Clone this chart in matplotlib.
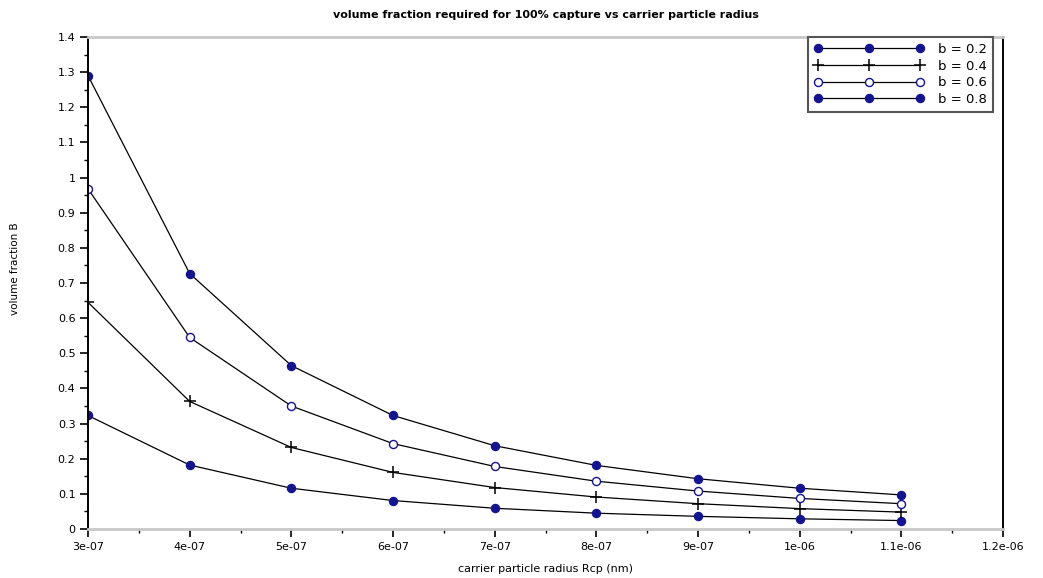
import numpy as np
import matplotlib
matplotlib.use("Agg")
import matplotlib.pyplot as plt
from matplotlib.ticker import MultipleLocator, FuncFormatter

# carrier particle radius (m)
radius = [3e-07, 4e-07, 5e-07, 6e-07, 7e-07, 8e-07, 9e-07, 1e-06, 1.1e-06]
# volume fraction for each b
b02 = [0.323, 0.182, 0.116, 0.081, 0.059, 0.045, 0.036, 0.029, 0.024]
b04 = [0.645, 0.363, 0.232, 0.161, 0.118, 0.091, 0.072, 0.058, 0.048]
b06 = [0.968, 0.545, 0.350, 0.243, 0.178, 0.136, 0.108, 0.087, 0.072]
b08 = [1.290, 0.727, 0.465, 0.323, 0.237, 0.181, 0.143, 0.116, 0.097]
labels = ["b = 0.2", "b = 0.4", "b = 0.6", "b = 0.8"]

NAVY = "#14148f"
fig = plt.figure(figsize=(10.43, 5.78), dpi=100)
ax = fig.add_axes([88/1043, 1-529/578, 915/1043, 492/578])

lw = 0.9
ms = 5.8
ax.plot(radius, b02, color="black", lw=lw, marker="o", ms=ms, mfc=NAVY, mec=NAVY, label=labels[0])
ax.plot(radius, b04, color="black", lw=lw, marker="+", ms=8, mew=1.1, mec="black", label=labels[1])
ax.plot(radius, b06, color="black", lw=lw, marker="o", ms=ms, mfc="white", mec=NAVY, mew=1.0, label=labels[2])
ax.plot(radius, b08, color="black", lw=lw, marker="o", ms=ms, mfc=NAVY, mec=NAVY, label=labels[3])

ax.set_xlim(3e-07, 1.2e-06)
ax.set_ylim(0, 1.4)
ax.xaxis.set_major_locator(MultipleLocator(1e-07))
ax.xaxis.set_minor_locator(MultipleLocator(5e-08))
ax.yaxis.set_major_locator(MultipleLocator(0.1))
ax.yaxis.set_minor_locator(MultipleLocator(0.05))

xlabs = {3: "3e-07", 4: "4e-07", 5: "5e-07", 6: "6e-07", 7: "7e-07", 8: "8e-07",
         9: "9e-07", 10: "1e-06", 11: "1.1e-06", 12: "1.2e-06"}
ax.xaxis.set_major_formatter(FuncFormatter(lambda v, _: xlabs.get(int(round(v * 1e7)), "")))
ax.yaxis.set_major_formatter(FuncFormatter(lambda v, _: ("%.1f" % v).rstrip("0").rstrip(".") if v else "0"))

ax.tick_params(which="major", direction="out", length=6, width=1.2, labelsize=8, colors="black", pad=3)
ax.tick_params(which="minor", direction="out", length=3, width=1.0)

for s in ("left", "right"):
    ax.spines[s].set_color("black")
    ax.spines[s].set_linewidth(1.4)
for s in ("top", "bottom"):
    ax.spines[s].set_color("#c8c8c8")
    ax.spines[s].set_linewidth(2.0)

ax.set_title("volume fraction required for 100% capture vs carrier particle radius",
             fontsize=8, weight="bold", pad=14)
ax.set_xlabel("carrier particle radius Rcp (nm)", fontsize=8, labelpad=9)
ax.set_ylabel("volume fraction B", fontsize=7.5)
ax.yaxis.set_label_coords(-0.074, 0.53)

leg = ax.legend(loc="upper right", bbox_to_anchor=(0.9895, 1.0), fontsize=9.5,
                numpoints=3, handlelength=8.3, handletextpad=1.1, labelspacing=0.28,
                borderpad=0.45, borderaxespad=0.0, fancybox=False, framealpha=1)
leg.get_frame().set_edgecolor("#555555")
leg.get_frame().set_linewidth(1.5)

fig.savefig("out.png", dpi=100, facecolor="white")
